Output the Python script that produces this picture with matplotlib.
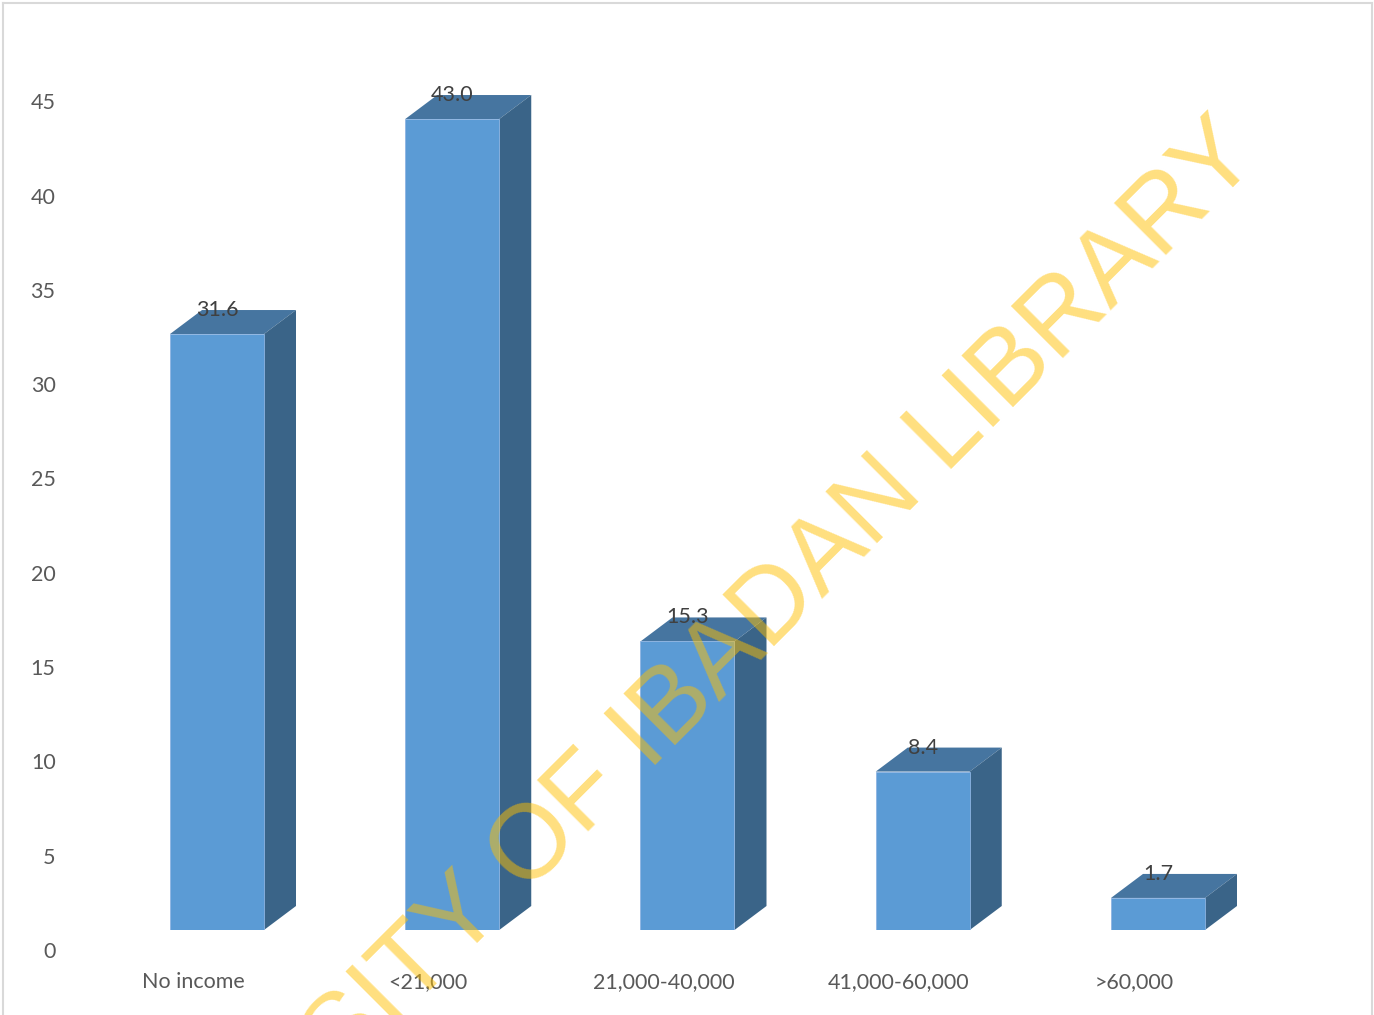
import matplotlib.pyplot as plt
from matplotlib.lines import Line2D
from matplotlib.transforms import ScaledTranslation

# data
categories = ['No income', '<21,000', '21,000-40,000', '41,000-60,000', '>60,000']
values = [31.6, 43.0, 15.3, 8.4, 1.7]
yticks = [0, 5, 10, 15, 20, 25, 30, 35, 40, 45]

W, H = 1374, 1015
fig = plt.figure(figsize=(W / 100, H / 100), dpi=100)
plt.rcParams['font.family'] = ['Lato', 'DejaVu Sans']

# axes placed so that the front face of the bars sits on pixel rows 930 (0) .. 81 (45)
px_unit_y = 18.86
px_unit_x = 235.25
left_px, right_px = 100, 1300
bottom_px = 930
top_px = bottom_px - 45 * px_unit_y
ax = fig.add_axes([left_px / W, 1 - bottom_px / H, (right_px - left_px) / W, (bottom_px - top_px) / H])
ax.set_xlim((left_px - 217) / px_unit_x, (right_px - 217) / px_unit_x)
ax.set_ylim(0, 45)
ax.set_facecolor('none')
for s in ax.spines.values():
    s.set_visible(False)

front = '#5B9BD5'
top_c = '#4675A0'
side_c = '#3A6488'
bw = 94 / px_unit_x
dx = 32 / px_unit_x
dy = 24 / px_unit_y

x = list(range(len(categories)))
ax.bar(x, values, width=bw, color=front, edgecolor='#8DB4E2', linewidth=0.6, zorder=3)
for i, v in zip(x, values):
    l, r = i - bw / 2, i + bw / 2
    ax.fill([l, r, r + dx, l + dx], [v, v, v + dy, v + dy], color=top_c, zorder=2, lw=0)
    ax.fill([r, r + dx, r + dx, r], [0, dy, v + dy, v], color=side_c, zorder=2, lw=0)
    ax.text(i, v + dy, f'{v:.1f}', ha='center', va='center', fontsize=15.5, color='#404040', zorder=4)

ax.set_yticks(yticks)
ax.set_xticks(x)
ax.set_xticklabels(categories)
ax.tick_params(axis='y', length=0, pad=32, labelsize=15.5, labelcolor='#595959')
ax.tick_params(axis='x', length=0, pad=30, labelsize=15.5, labelcolor='#595959')
for lab in ax.get_yticklabels():
    lab.set_transform(lab.get_transform() + ScaledTranslation(0, -0.2, fig.dpi_scale_trans))
for lab in ax.get_xticklabels():
    lab.set_transform(lab.get_transform() + ScaledTranslation(-0.24, 0, fig.dpi_scale_trans))

# chart area border
bc = '#D9D9D9'
fig.add_artist(Line2D([3 / W, 3 / W], [0, 1 - 3 / H], color=bc, lw=1.5))
fig.add_artist(Line2D([3 / W, 1372 / W], [1 - 3 / H, 1 - 3 / H], color=bc, lw=1.5))
fig.add_artist(Line2D([1372 / W, 1372 / W], [0, 1 - 3 / H], color=bc, lw=1.5))

# watermark
fig.text(1262 / W, 1 - 159 / H, 'UNIVERSITY OF IBADAN LIBRARY', rotation=45,
         rotation_mode='anchor', ha='right', va='baseline', fontsize=75.5,
         family='Liberation Sans', color='#FFC000', alpha=0.5, zorder=10)

fig.savefig('out.png', dpi=100)
